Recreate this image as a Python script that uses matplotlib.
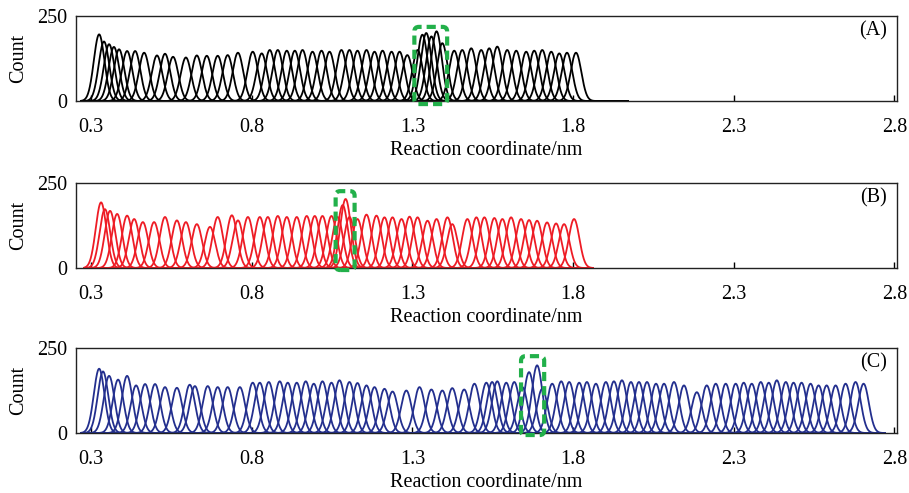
import numpy as np
import matplotlib
matplotlib.use('Agg')
import matplotlib.pyplot as plt
from matplotlib.patches import FancyBboxPatch

plt.rcParams['font.family'] = ['Liberation Serif', 'DejaVu Serif']

panel_labels = ['(A)', '(B)', '(C)']
xlabel = 'Reaction coordinate/nm'
ylabel = 'Count'
xticks = [0.3, 0.8, 1.3, 1.8, 2.3, 2.8]
yticks = [0, 250]

# window centres (nm) and peak heights (count)
centers_A = [0.325, 0.340, 0.356, 0.371, 0.387, 0.412, 0.437, 0.465, 0.505, 0.530,
             0.555, 0.595, 0.629, 0.660, 0.694, 0.725, 0.757, 0.803, 0.831, 0.856,
             0.881, 0.909, 0.934, 0.958, 0.989, 1.017, 1.042, 1.079, 1.104, 1.129,
             1.157, 1.182, 1.207, 1.235, 1.260, 1.284, 1.316, 1.331, 1.343, 1.359,
             1.375, 1.393, 1.430, 1.455, 1.483, 1.514, 1.539, 1.564, 1.595, 1.623,
             1.654, 1.679, 1.704, 1.732, 1.757, 1.781, 1.809]
heights_A = [196, 175, 167, 159, 152, 147, 147, 142, 134, 139,
             130, 128, 134, 133, 133, 135, 142, 145, 140, 150,
             150, 148, 148, 150, 145, 148, 145, 150, 150, 148,
             150, 145, 148, 145, 145, 135, 150, 195, 200, 190,
             205, 170, 148, 150, 155, 150, 155, 160, 150, 148,
             145, 148, 150, 145, 140, 142, 142]

centers_B = [0.331, 0.343, 0.359, 0.381, 0.412, 0.434, 0.461, 0.496, 0.530, 0.567,
             0.595, 0.629, 0.670, 0.694, 0.738, 0.757, 0.788, 0.825, 0.850, 0.881,
             0.909, 0.940, 0.971, 0.996, 1.020, 1.048, 1.067, 1.083, 1.092, 1.104,
             1.129, 1.157, 1.188, 1.213, 1.238, 1.266, 1.291, 1.316, 1.347, 1.375,
             1.409, 1.424, 1.471, 1.499, 1.524, 1.555, 1.580, 1.607, 1.638, 1.663,
             1.688, 1.719, 1.747, 1.772, 1.803]
heights_B = [193, 173, 168, 159, 154, 144, 135, 135, 150, 140,
             135, 129, 121, 150, 155, 140, 150, 150, 150, 153,
             150, 150, 153, 153, 153, 153, 150, 185, 203, 150,
             144, 157, 154, 149, 149, 144, 151, 149, 139, 144,
             149, 129, 144, 149, 149, 147, 144, 149, 144, 141,
             139, 134, 131, 129, 144]

centers_C = [0.325, 0.337, 0.356, 0.384, 0.412, 0.440, 0.468, 0.499, 0.530, 0.567,
             0.607, 0.623, 0.663, 0.694, 0.725, 0.763, 0.803, 0.825, 0.853, 0.887,
             0.912, 0.940, 0.968, 0.993, 1.020, 1.048, 1.073, 1.104, 1.129, 1.157,
             1.182, 1.213, 1.238, 1.281, 1.322, 1.359, 1.393, 1.424, 1.461, 1.493,
             1.530, 1.548, 1.564, 1.592, 1.617, 1.642, 1.663, 1.688, 1.704, 1.735,
             1.763, 1.788, 1.819, 1.843, 1.871, 1.902, 1.927, 1.952, 1.980, 2.005,
             2.030, 2.058, 2.083, 2.114, 2.145, 2.185, 2.216, 2.244, 2.275, 2.306,
             2.331, 2.356, 2.384, 2.409, 2.434, 2.462, 2.486, 2.511, 2.539, 2.564,
             2.589, 2.617, 2.648, 2.679, 2.704]
heights_C = [189, 181, 168, 157, 168, 140, 144, 144, 135, 133,
             142, 138, 138, 135, 135, 135, 148, 148, 150, 152,
             148, 148, 152, 145, 152, 148, 155, 150, 147, 140,
             135, 130, 122, 125, 135, 128, 125, 132, 128, 145,
             148, 150, 152, 148, 150, 135, 179, 199, 130, 145,
             152, 150, 148, 150, 145, 150, 152, 155, 150, 150,
             150, 145, 145, 150, 140, 120, 140, 145, 145, 145,
             148, 145, 150, 148, 155, 150, 148, 148, 145, 140,
             140, 140, 145, 150, 145]

sigma = 0.0165
x_ranges = [(0.27, 1.97), (0.28, 1.86), (0.27, 2.77)]
colors = ['#000000', '#ee1c25', '#232f8e']
# highlighted windows (x0, x1, y0, y1)
boxes = [(1.306, 1.408, -9, 218), (1.061, 1.120, -6, 226), (1.638, 1.710, -6, 226)]
green = '#22b04a'

fig = plt.figure(figsize=(9.09, 4.93), dpi=100)
left, width, height = 76 / 909, 821 / 909, 85 / 493
bottoms = [1 - 101 / 493, 1 - 268 / 493, 1 - 433 / 493]

data = [(centers_A, heights_A), (centers_B, heights_B), (centers_C, heights_C)]

for i in range(3):
    ax = fig.add_axes([left, bottoms[i], width, height])
    cs, hs = data[i]
    xs = np.linspace(x_ranges[i][0], x_ranges[i][1], 3000)
    for c, h in zip(cs, hs):
        ax.plot(xs, h * np.exp(-0.5 * ((xs - c) / sigma) ** 2), color=colors[i], lw=1.3)
    x0, x1, y0, y1 = boxes[i]
    box = FancyBboxPatch((x0, y0), x1 - x0, y1 - y0,
                         boxstyle='round,pad=0,rounding_size=0.014',
                         mutation_aspect=947, fill=False, edgecolor=green,
                         lw=3, linestyle=(0, (2.2, 1.2)), clip_on=False, zorder=5)
    ax.add_patch(box)
    ax.set_xlim(0.253, 2.808)
    ax.set_ylim(0, 250)
    ax.set_xticks(xticks)
    ax.set_xticklabels([f'{t:.1f}' for t in xticks])
    ax.set_yticks(yticks)
    ax.tick_params(axis='x', direction='in', length=4, width=1, pad=12.5, labelsize=14.5)
    ax.tick_params(axis='y', direction='in', length=0, pad=6, labelsize=14.5)
    for s in ax.spines.values():
        s.set_linewidth(1.0)
        s.set_color('#222222')
    ax.set_xlabel(xlabel, fontsize=14.5)
    ax.xaxis.set_label_coords(0.5, -0.465)
    ax.set_ylabel(ylabel, fontsize=14.5)
    ax.yaxis.set_label_coords(-0.058, 0.5)
    ax.text(0.971, 0.82, panel_labels[i], transform=ax.transAxes,
            ha='center', va='center', fontsize=14.5)

fig.savefig('out.png', dpi=100)
